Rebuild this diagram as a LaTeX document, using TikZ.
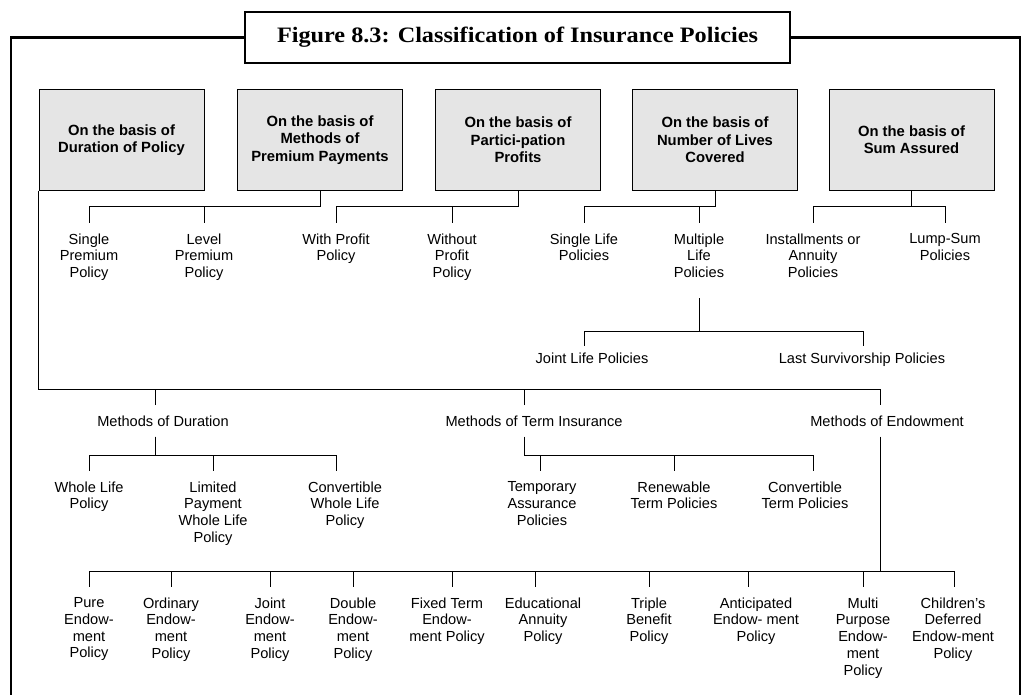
\documentclass[tikz,border=0pt]{standalone}
\usepackage{fontspec}
\setmainfont{Liberation Sans}
\newfontfamily\titlefont{Liberation Serif}
\usepackage{tikz}

\begin{document}
\begin{tikzpicture}[x=1pt,y=-1pt,
		frame/.style={line width=2.2pt},
		titlebox/.style={draw,line width=2.2pt,fill=white,minimum width=545pt,minimum height=51pt},
		basis/.style={draw,fill=black!10,line width=1pt,minimum width=165pt,minimum height=100pt,align=center,
			font=\bfseries\fontsize{14.8}{17.3}\selectfont},
		leaf/.style={anchor=north,align=center,inner xsep=1pt,inner ysep=10pt,font=\fontsize{14.6}{16.8}\selectfont},
		every path/.style={line width=1pt}]
		
		\useasboundingbox (0,0) rectangle (1027,695);
		
		% frame and title
		\coordinate (frameSW) at (11,698);
		\coordinate (frameSE) at (1020,698);
		\node[titlebox] (title) at (517.5,37.5) {\resizebox{481pt}{\height}{\titlefont\bfseries\fontsize{22}{24}\selectfont Figure 8.3: Classification of Insurance Policies}};
		\draw[frame] (frameSW) |- (title.west);
		\draw[frame] (title.east) -| (frameSE);
		
		% basis boxes
		\node[basis] (dur) at (121.5,140) {On the basis of\\Duration of Policy};
		\node[basis] (prem) at (320,140) {On the basis of\\Methods of\\Premium Payments};
		\node[basis] (part) at (518,140) {On the basis of\\Partici-pation\\Profits};
		\node[basis] (lives) at (715,140) {On the basis of\\Number of Lives\\Covered};
		\node[basis] (sum) at (911.5,140) {On the basis of\\Sum Assured};
		
		% first row
		\node[leaf] (single) at (89,223) {Single\\Premium\\Policy};
		\node[leaf] (level) at (204,223) {Level\\Premium\\Policy};
		\node[leaf] (withp) at (336,223) {With Profit\\Policy};
		\node[leaf] (withoutp) at (452,223) {Without\\Profit\\Policy};
		\node[leaf] (singlelife) at (584,223) {Single Life\\Policies};
		\node[leaf] (multilife) at (699,223) {Multiple\\Life\\Policies};
		\node[leaf] (annuity) at (813,223) {Installments or\\Annuity\\Policies};
		\node[leaf] (lumpsum) at (945,223) {Lump-Sum\\Policies};
		
		% multiple life
		\node[leaf,inner ysep=6pt] (jointlife) at (592,346) {Joint Life Policies};
		\node[leaf,inner ysep=6pt] (lastsurv) at (862,346) {Last Survivorship Policies};
		
		% methods
		\node[leaf] (mdur) at (163,405) {Methods of Duration};
		\node[leaf] (mterm) at (534,405) {Methods of Term Insurance};
		\node[leaf] (mendow) at (887,405) {Methods of Endowment};
		
		% second row
		\node[leaf] (whole) at (89,471) {Whole Life\\Policy};
		\node[leaf] (limited) at (213,471) {Limited\\Payment\\Whole Life\\Policy};
		\node[leaf] (convwhole) at (345,471) {Convertible\\Whole Life\\Policy};
		\node[leaf] (temporary) at (542,471) {Temporary\\Assurance\\Policies};
		\node[leaf] (renew) at (674,471) {Renewable\\Term Policies};
		\node[leaf] (convterm) at (805,471) {Convertible\\Term Policies};
		
		% endowment row
		\node[leaf] (pure) at (89,587) {Pure\\Endow-\\ment\\Policy};
		\node[leaf] (ordinary) at (171,587) {Ordinary\\Endow-\\ment\\Policy};
		\node[leaf] (jointend) at (270,587) {Joint\\Endow-\\ment\\Policy};
		\node[leaf] (double) at (353,587) {Double\\Endow-\\ment\\Policy};
		\node[leaf] (fixed) at (447,587) {Fixed Term\\Endow-\\ment Policy};
		\node[leaf] (educ) at (543,587) {Educational\\Annuity\\Policy};
		\node[leaf] (triple) at (649,587) {Triple\\Benefit\\Policy};
		\node[leaf] (anticip) at (756,587) {Anticipated\\Endow- ment\\Policy};
		\node[leaf] (multi) at (863,587) {Multi\\Purpose\\Endow-\\ment\\Policy};
		\node[leaf] (children) at (953,587) {Children’s\\Deferred\\Endow-ment\\Policy};
		
		% first level links
		\foreach \parent/\lchild/\rchild in {prem/single/level,part/withp/withoutp,lives/singlelife/multilife,sum/annuity/lumpsum}
		{\draw (\parent.south) -- ++(0,16) -| (\lchild.north);
		 \draw (\parent.south) ++(0,16) -| (\rchild.north);}
		
		% lives covered
		\draw ([yshift=-10pt]multilife.south) -- ++(0,33) -| ([xshift=-8pt]jointlife.north);
		\draw ([yshift=-10pt]multilife.south) ++(0,33) -| ([xshift=1pt]lastsurv.north);
		
		% duration trunk
		\draw (dur.south west) |- ([xshift=-7pt,yshift=16pt]mendow.north) -- ([xshift=-7pt]mendow.north);
		\draw ([xshift=-8pt]mdur.north) -- ++(0,-16);
		\draw ([xshift=-10pt]mterm.north) -- ++(0,-16);
		
		% methods of duration
		\draw ([xshift=-8pt]mdur.south) |- ([yshift=16pt]whole.north) -- (whole.north);
		\draw ([xshift=-8pt]mdur.south) |- ([xshift=-9pt,yshift=16pt]convwhole.north) -- ([xshift=-9pt]convwhole.north);
		\draw ([yshift=16pt]limited.north) -- (limited.north);
		
		% methods of term insurance
		\draw ([xshift=-10pt]mterm.south) |- ([xshift=8pt,yshift=16pt]convterm.north) -- ([xshift=8pt]convterm.north);
		\draw ([xshift=-2pt,yshift=16pt]temporary.north) -- ([xshift=-2pt]temporary.north);
		\draw ([yshift=16pt]renew.north) -- (renew.north);
		
		% methods of endowment
		\draw ([yshift=16pt]pure.north) -- ([xshift=1pt,yshift=16pt]children.north);
		\draw ([xshift=-7pt]mendow.south) |- ([yshift=16pt]multi.north);
		\foreach \name/\dx in {pure/0,ordinary/0,jointend/0,double/0,fixed/5,educ/-8,triple/0,anticip/-8,multi/0,children/1}
		\draw ([xshift=\dx pt,yshift=16pt]\name.north) -- ([xshift=\dx pt]\name.north);
		
	\end{tikzpicture}
\end{document}
